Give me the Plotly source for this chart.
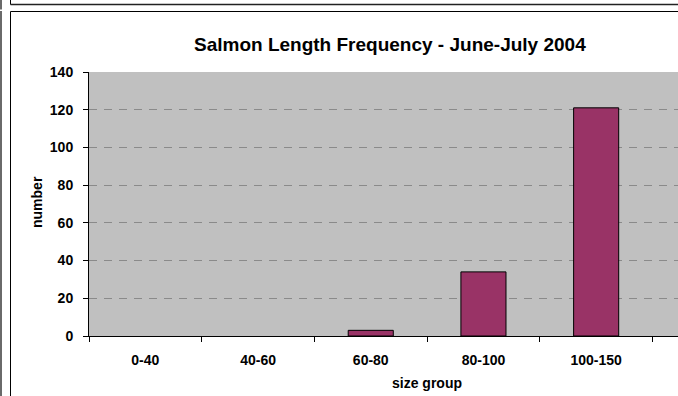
import plotly.graph_objects as go

categories = ["0-40", "40-60", "60-80", "80-100", "100-150"]
counts = [0, 0, 3, 34, 121]
y_ticks = [0, 20, 40, 60, 80, 100, 120, 140]

W, H = 678, 396
ML, MR, MT, MB = 89, 0, 72, 60
PW, PH = W - ML - MR, H - MT - MB
CAT_PX = 112.7

def X(px):
    return (px - ML) / PW

def Y(py):
    return (H - MB - py) / PH

FONT = "Liberation Sans, Arial, Helvetica, sans-serif"

fig = go.Figure()
fig.add_trace(go.Bar(
    x=categories, y=counts, width=0.4,
    marker=dict(color="#993366",
                line=dict(color="#000000", width=[0 if v == 0 else 1 for v in counts])),
    hoverinfo="skip",
))

shapes = []
# left gray strip (edge of page)
shapes.append(dict(type="rect", xref="paper", yref="paper", x0=X(0), x1=X(2), y0=Y(0), y1=Y(9.5),
                   fillcolor="#6a6a6a", line=dict(width=0), layer="above"))
shapes.append(dict(type="rect", xref="paper", yref="paper", x0=X(0), x1=X(2), y0=Y(11), y1=Y(396),
                   fillcolor="#6a6a6a", line=dict(width=0), layer="above"))
# previous chart frame bottom
shapes.append(dict(type="line", xref="paper", yref="paper", x0=X(10.5), x1=X(678), y0=Y(4.5), y1=Y(4.5),
                   line=dict(color="#222222", width=1.5), layer="above"))
shapes.append(dict(type="line", xref="paper", yref="paper", x0=X(10.5), x1=X(10.5), y0=Y(0), y1=Y(4.5),
                   line=dict(color="#000000", width=1), layer="above"))
# this chart frame
shapes.append(dict(type="line", xref="paper", yref="paper", x0=X(10.5), x1=X(678), y0=Y(11.5), y1=Y(11.5),
                   line=dict(color="#000000", width=1), layer="above"))
shapes.append(dict(type="line", xref="paper", yref="paper", x0=X(10.5), x1=X(10.5), y0=Y(11.5), y1=Y(396),
                   line=dict(color="#000000", width=1), layer="above"))

annotations = [
    dict(text="<b>Salmon Length Frequency - June-July 2004</b>", xref="paper", yref="paper",
         x=X(390), y=Y(44), xanchor="center", yanchor="middle", showarrow=False,
         font=dict(family=FONT, size=19, color="#000000")),
    dict(text="<b>size group</b>", xref="paper", yref="paper",
         x=X(427), y=Y(383), xanchor="center", yanchor="middle", showarrow=False,
         font=dict(family=FONT, size=14, color="#000000")),
    dict(text="<b>number</b>", xref="paper", yref="paper", textangle=-90,
         x=X(37), y=Y(202), xanchor="center", yanchor="middle", showarrow=False,
         font=dict(family=FONT, size=14, color="#000000")),
]

fig.update_layout(
    width=W, height=H,
    margin=dict(l=ML, r=MR, t=MT, b=MB, pad=0),
    paper_bgcolor="#ffffff",
    plot_bgcolor="#c0c0c0",
    showlegend=False,
    shapes=shapes,
    annotations=annotations,
    font=dict(family=FONT, size=14, color="#000000"),
    xaxis=dict(
        type="category", range=[-0.5, -0.5 + PW / CAT_PX],
        tickson="boundaries", ticks="outside", ticklen=5, tickcolor="#000000", tickwidth=1,
        showline=True, linecolor="#000000", linewidth=1,
        showgrid=False, zeroline=False,
        tickfont=dict(family=FONT, size=14, color="#000000", weight="bold"),
        ticklabelstandoff=11,
    ),
    yaxis=dict(
        range=[0, 140], tickvals=y_ticks, ticktext=[str(v) for v in y_ticks],
        ticks="outside", ticklen=5, tickcolor="#000000", tickwidth=1,
        showline=True, linecolor="#000000", linewidth=1,
        showgrid=True, gridcolor="#8a8a8a", gridwidth=1, griddash="8px,7px",
        zeroline=False,
        tickfont=dict(family=FONT, size=14, color="#000000", weight="bold"),
        ticklabelstandoff=7,
    ),
)

fig.write_html("out.html",
               config={"displayModeBar": False},
               post_script="document.body.style.margin='0';document.body.style.overflow='hidden';")
